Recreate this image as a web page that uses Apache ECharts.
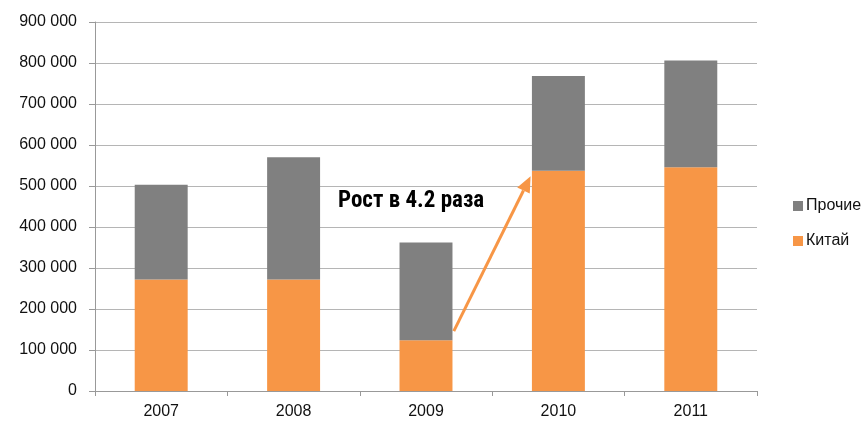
<!DOCTYPE html>
<html>
<head>
<meta charset="utf-8">
<script src="https://cdn.jsdelivr.net/npm/echarts@6/dist/echarts.min.js"></script>
<style>
html,body{margin:0;padding:0;background:#fff;}
#chart{width:866px;height:421px;}
</style>
</head>
<body>
<div id="chart"></div>
<script>
const categories = ['2007', '2008', '2009', '2010', '2011'];
const chinaValues = [272000, 272000, 124000, 537000, 546000];
const otherValues = [231000, 298000, 238000, 231000, 260000];
const yTicks = { min: 0, max: 900000, interval: 100000 };
const seriesNames = ['Китай', 'Прочие'];
const annotationText = 'Рост в 4.2 раза';

const chart = echarts.init(document.getElementById('chart'), null, { renderer: 'canvas' });
const fmt = v => String(v).replace(/\B(?=(\d{3})+(?!\d))/g, ' ');

chart.setOption({
  animation: false,
  grid: { left: 95, right: 109, top: 22, bottom: 30, containLabel: false },
  legend: {
    data: [seriesNames[1], seriesNames[0]],
    orient: 'vertical',
    left: 788,
    top: 193,
    itemWidth: 10,
    itemHeight: 10,
    itemGap: 19,
    icon: 'rect',
    textStyle: { fontFamily: '"Liberation Sans", Arial, sans-serif', fontSize: 16, color: '#111', padding: [0, 0, 0, -2] }
  },
  xAxis: {
    type: 'category',
    data: categories,
    boundaryGap: true,
    axisLine: { lineStyle: { color: '#999', width: 1 } },
    axisTick: { show: true, length: 5, lineStyle: { color: '#999' } },
    axisLabel: { fontFamily: '"Liberation Sans", Arial, sans-serif', fontSize: 16, color: '#111', margin: 13 }
  },
  yAxis: {
    type: 'value',
    min: yTicks.min,
    max: yTicks.max,
    interval: yTicks.interval,
    axisLine: { show: true, lineStyle: { color: '#999', width: 1 } },
    axisTick: { show: true, length: 6, lineStyle: { color: '#999' } },
    splitLine: { lineStyle: { color: '#b5b5b5', width: 1 } },
    axisLabel: { formatter: fmt, fontFamily: '"Liberation Sans", Arial, sans-serif', fontSize: 16, color: '#111', margin: 18 }
  },
  series: [
    {
      name: seriesNames[0], type: 'bar', stack: 'total', data: chinaValues,
      barWidth: '40%', itemStyle: { color: '#f79646' }
    },
    {
      name: seriesNames[1], type: 'bar', stack: 'total', data: otherValues,
      barWidth: '40%', itemStyle: { color: '#808080' }
    }
  ]
});

// Annotation arrow positioned relative to data coordinates
const p2009 = chart.convertToPixel({ seriesIndex: 0 }, [2, 146000]);
const p2010 = chart.convertToPixel({ seriesIndex: 0 }, [3, 524000]);
const catW = chart.convertToPixel({ seriesIndex: 0 }, [3, 0])[0] - chart.convertToPixel({ seriesIndex: 0 }, [2, 0])[0];
const x1 = p2009[0] + catW * 0.21, y1 = p2009[1];
const x2 = p2010[0] - catW * 0.21, y2 = p2010[1];
const ang = Math.atan2(y2 - y1, x2 - x1);
const headLen = 16, headW = 7;
const bx = x2 - headLen * Math.cos(ang), by = y2 - headLen * Math.sin(ang);
const nx = -Math.sin(ang), ny = Math.cos(ang);

chart.setOption({
  graphic: [
    {
      type: 'line',
      shape: { x1: x1, y1: y1, x2: bx, y2: by },
      style: { stroke: '#f79646', lineWidth: 3 }
    },
    {
      type: 'polygon',
      shape: { points: [[x2, y2], [bx + nx * headW, by + ny * headW], [bx - nx * headW, by - ny * headW]] },
      style: { fill: '#f79646' }
    },
    {
      type: 'text',
      x: 338, y: 201,
      style: {
        text: annotationText,
        font: 'bold 23px "Liberation Sans Narrow", "Arial Narrow", "Roboto Condensed", sans-serif',
        fill: '#000',
        verticalAlign: 'middle'
      }
    }
  ]
});
</script>
</body>
</html>
